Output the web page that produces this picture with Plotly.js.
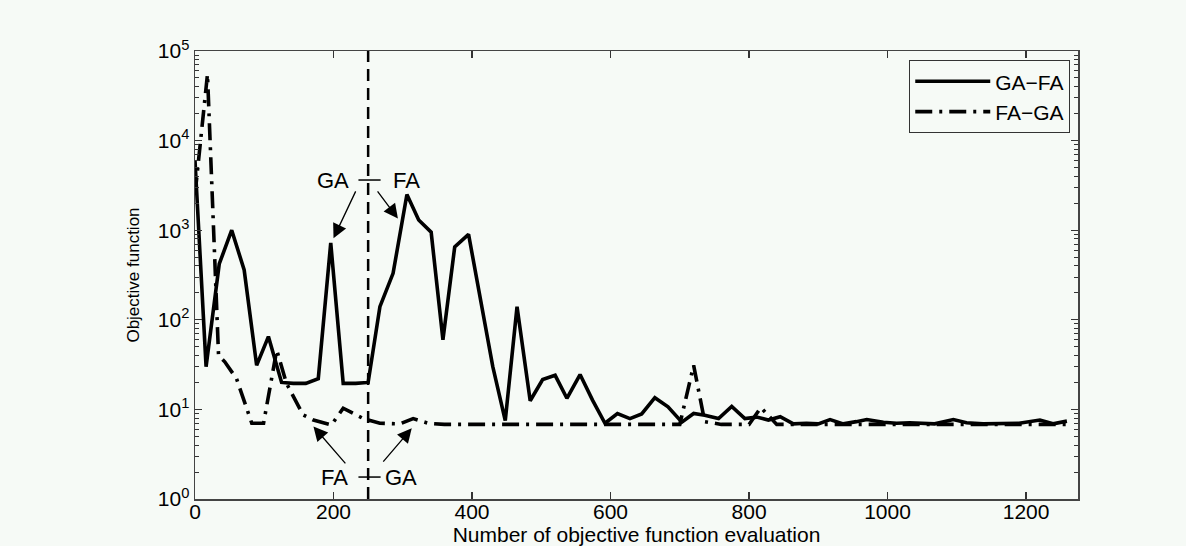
<!DOCTYPE html>
<html>
<head>
<meta charset="utf-8">
<script src="https://cdn.plot.ly/plotly-3.0.1.min.js"></script>
<style>html,body{margin:0;padding:0;background:#f6faf6;}</style>
</head>
<body>
<div id="chart" style="width:1186px;height:546px;"></div>
<script>
// ---- data ----
const evalGAFA = [0, 16, 35, 53, 71, 89, 106, 125, 142, 160, 178, 196, 214, 232, 250, 267, 286, 306, 323, 341, 358, 375, 395, 412, 430, 448, 465, 484, 502, 520, 537, 556, 574, 592, 610, 628, 645, 664, 683, 703, 720, 736, 756, 775, 794, 811, 828, 845, 864, 883, 900, 917, 936, 955, 970, 994, 1013, 1032, 1050, 1068, 1095, 1114, 1138, 1162, 1190, 1220, 1239, 1259];
const objGAFA  = [6000, 30, 420, 1000, 360, 31, 65, 20, 19.5, 19.5, 22, 720, 19.5, 19.5, 20, 140, 330, 2500, 1300, 950, 60, 650, 900, 170, 30, 7.5, 140, 12.5, 21.5, 24, 13.3, 24.5, 12.7, 7, 9, 7.9, 8.9, 13.5, 10.7, 7.2, 9, 8.6, 7.9, 10.8, 7.9, 8.2, 7.6, 8.3, 6.9, 7.0, 6.9, 7.7, 6.9, 7.3, 7.7, 7.2, 7.0, 7.1, 7.0, 6.9, 7.7, 7.1, 6.9, 6.9, 7.0, 7.6, 6.9, 7.4];

const evalFAGA = [0, 8, 18, 34, 43, 60, 82, 99, 118, 132, 156, 171, 197, 214, 243, 267, 296, 315, 337, 360, 400, 450, 500, 550, 600, 650, 700, 720, 736, 760, 800, 817, 840, 880, 920, 960, 1000, 1040, 1080, 1120, 1160, 1200, 1240, 1262];
const objFAGA  = [2500, 9000, 55000, 40, 34, 22, 7, 7, 46, 19.6, 8.7, 7.6, 6.7, 10.3, 7.9, 7.0, 6.9, 7.9, 7.0, 6.8, 6.8, 6.8, 6.8, 6.8, 6.8, 6.8, 6.8, 31, 7.3, 6.8, 6.8, 10.5, 6.8, 6.8, 6.8, 6.8, 6.8, 6.8, 6.8, 6.8, 6.8, 6.8, 6.8, 6.8];

const switchEval = 250;
const seriesNames = ['GA\u2212FA', 'FA\u2212GA'];
const xTickVals = [0, 200, 400, 600, 800, 1000, 1200];
const yTickVals = [1, 10, 100, 1000, 10000, 100000];
const yTickText = ['10<sup>0</sup>', '10<sup>1</sup>', '10<sup>2</sup>', '10<sup>3</sup>', '10<sup>4</sup>', '10<sup>5</sup>'];

// annotation labels: [text, x, logY]
const labelTexts = [['GA', 199, 3.56], ['FA', 305, 3.56], ['FA', 202, 0.245], ['GA', 297, 0.245]];
// arrows: [headX, headLogY, tailX, tailLogY]
const arrowDefs = [[200, 2.91, 233, 3.45], [293, 3.13, 262, 3.45], [171, 0.81, 219, 0.38], [313, 0.79, 270, 0.40]];
// small horizontal bars crossing the switch line: [x0, x1, logY]
const barDefs = [[236, 268, 3.56], [236, 268, 0.245]];

const BG = '#f6faf6';
const FONT = 'Liberation Sans, Arial, sans-serif';

const traces = [
  {x: evalGAFA, y: objGAFA, name: seriesNames[0], type: 'scatter', mode: 'lines',
   line: {color: '#000', width: 3.6}},
  {x: evalFAGA, y: objFAGA, name: seriesNames[1], type: 'scatter', mode: 'lines',
   line: {color: '#000', width: 3.6, dash: '17px,7px,3px,7px'}},
  {x: [switchEval, switchEval], y: [1, 100000], type: 'scatter', mode: 'lines', showlegend: false,
   line: {color: '#000', width: 2.5, dash: '12px,7px'}, hoverinfo: 'skip'}
];

const annotations = [];
labelTexts.forEach(function(l){
  annotations.push({x: l[1], y: l[2], xref: 'x', yref: 'y', text: l[0], showarrow: false,
    font: {family: FONT, size: 22, color: '#000'}});
});
arrowDefs.forEach(function(a){
  annotations.push({x: a[0], y: a[1], ax: a[2], ay: a[3], xref: 'x', yref: 'y', axref: 'x', ayref: 'y',
    text: '', showarrow: true, arrowhead: 2, arrowsize: 2.2, arrowwidth: 1.3, arrowcolor: '#000', standoff: 0});
});
const shapes = barDefs.map(function(b){
  return {type: 'line', xref: 'x', yref: 'y', x0: b[0], x1: b[1], y0: Math.pow(10, b[2]), y1: Math.pow(10, b[2]),
    line: {color: '#000', width: 1.5}};
});

const layout = {
  width: 1186, height: 546,
  paper_bgcolor: BG, plot_bgcolor: BG,
  margin: {l: 195, r: 108, t: 51, b: 47},
  font: {family: FONT, color: '#000'},
  showlegend: true,
  legend: {x: 0.991, y: 0.98, xanchor: 'right', yanchor: 'top', bgcolor: BG, bordercolor: '#333', borderwidth: 1.2,
    font: {family: FONT, size: 21, color: '#000'}, itemwidth: 75, tracegroupgap: 0},
  xaxis: {range: [0, 1275], tickvals: xTickVals, ticks: 'inside', ticklen: 7, tickwidth: 1.2, tickcolor: '#333',
    showline: true, linecolor: '#444', linewidth: 1.5, mirror: 'ticks', showgrid: false, zeroline: false,
    ticklabelstandoff: -7,
    tickfont: {family: FONT, size: 21, color: '#000'},
    title: {text: 'Number of objective function evaluation', font: {family: FONT, size: 21, color: '#000'}, standoff: 6}},
  yaxis: {type: 'log', range: [0, 5], tickmode: 'array', tickvals: yTickVals, ticktext: yTickText,
    ticks: 'inside', ticklen: 7, tickwidth: 1.2, tickcolor: '#333',
    minor: {ticks: 'inside', ticklen: 4, tickcolor: '#333', tickwidth: 1, dtick: 'D1', showgrid: false},
    showline: true, linecolor: '#444', linewidth: 1.5, mirror: 'ticks', showgrid: false, zeroline: false,
    tickfont: {family: FONT, size: 21, color: '#000'},
    title: {text: 'Objective function', font: {family: FONT, size: 17, color: '#000'}, standoff: 14}},
  annotations: annotations,
  shapes: shapes
};

Plotly.newPlot('chart', traces, layout, {displayModeBar: false, staticPlot: true});
</script>
</body>
</html>
